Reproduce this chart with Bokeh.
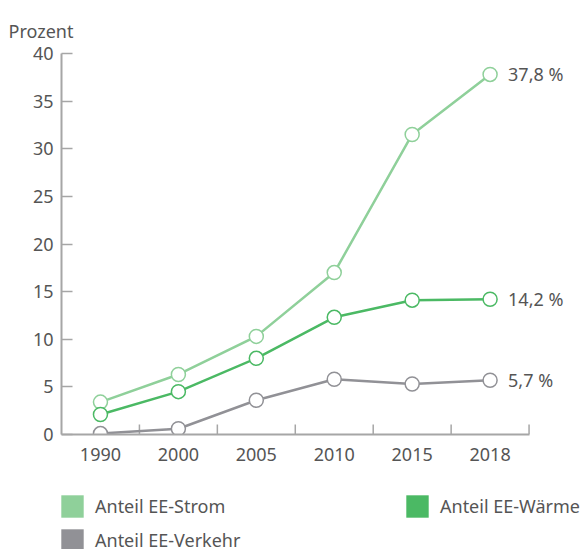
from bokeh.plotting import figure
from bokeh.layouts import column
from bokeh.models import (Range1d, ColumnDataSource, LabelSet, Legend,
                          LegendItem, FixedTicker)
from bokeh.core.properties import value
from bokeh.embed import file_html
from bokeh.resources import INLINE

years = ["1990", "2000", "2005", "2010", "2015", "2018"]
strom = [3.4, 6.3, 10.3, 17.0, 31.5, 37.8]
waerme = [2.1, 4.5, 8.0, 12.3, 14.1, 14.2]
verkehr = [0.1, 0.6, 3.6, 5.8, 5.3, 5.7]
y_ticks = [0, 5, 10, 15, 20, 25, 30, 35, 40]
end_labels = ["37,8 %", "14,2 %", "5,7 %"]
series_names = ["Anteil EE-Strom", "Anteil EE-Wärme", "Anteil EE-Verkehr"]
y_unit = "Prozent"

C_STROM = "#8fd09a"
C_WAERME = "#4bb964"
C_VERKEHR = "#919196"
AXIS = "#a6a6a6"
TXT = "#555555"
FONT = "Noto Sans"

n = len(years)
xc = [i + 0.5 for i in range(n)]          # band centres
bounds = list(range(1, n + 1))            # band boundaries

# main chart
p = figure(width=587, height=485, x_range=Range1d(0, n + 0.75),
           y_range=Range1d(0, 40), output_backend="svg", toolbar_location=None,
           min_border_left=61, min_border_right=0, min_border_top=53, min_border_bottom=51)
p.outline_line_color = None
p.grid.grid_line_color = None
p.background_fill_color = None
p.border_fill_color = None

p.title.text = y_unit
p.title.align = "left"
p.title.vertical_align = "top"
p.title.offset = -53
p.title.text_font = FONT
p.title.text_font_size = "18px"
p.title.text_font_style = "normal"
p.title.text_color = TXT
p.title.standoff = 18

p.yaxis.ticker = FixedTicker(ticks=y_ticks)
p.yaxis.minor_tick_line_color = None
p.yaxis.major_tick_in = 11
p.yaxis.major_tick_out = 0
p.xaxis.ticker = FixedTicker(ticks=xc)
p.xaxis.major_label_overrides = {c: y for c, y in zip(xc, years)}
p.xaxis.bounds = (0, n)
p.xaxis.minor_tick_line_color = None
for ax in (p.xaxis, p.yaxis):
    ax.axis_line_color = AXIS
    ax.axis_line_width = 2
    ax.major_tick_line_color = AXIS
    ax.major_tick_line_width = 1.5
    ax.major_label_text_font = FONT
    ax.major_label_text_font_size = "18px"
    ax.major_label_text_color = TXT
p.yaxis.major_label_standoff = 8
p.xaxis.major_tick_line_color = None
p.xaxis.major_label_standoff = 7

# x ticks at band boundaries
p.ray(x=bounds, y=[0] * n, length=10, length_units="screen",
      angle=90, angle_units="deg", line_color=AXIS, line_width=1.5)

src = ColumnDataSource(dict(x=xc, strom=strom, waerme=waerme, verkehr=verkehr))
for col, c in (("strom", C_STROM), ("verkehr", C_VERKEHR), ("waerme", C_WAERME)):
    p.line("x", col, source=src, line_color=c, line_width=2.5)
    p.scatter("x", col, source=src, size=14, fill_color="white", line_color=c, line_width=1.5)

lab_src = ColumnDataSource(dict(x=[xc[-1]] * 3, y=[strom[-1], waerme[-1], verkehr[-1]],
                                t=end_labels))
p.add_layout(LabelSet(x="x", y="y", text="t", source=lab_src, x_offset=18,
                      text_baseline="middle", text_font=value(FONT),
                      text_font_size=value("18px"), text_color=TXT))

# legend strip (its frame is aligned with the chart's frame by the column layout)
pl = figure(width=587, height=64, x_range=Range1d(0, 1), y_range=Range1d(0, 1),
            output_backend="svg", toolbar_location=None,
            x_axis_location=None, y_axis_location=None,
            min_border_left=0, min_border_right=0, min_border_top=0, min_border_bottom=0)
pl.grid.grid_line_color = None
pl.outline_line_color = None
pl.background_fill_color = None
pl.border_fill_color = None

nan = [float("nan")]
r_s = pl.rect(x=nan, y=nan, width=1, height=1, fill_color=C_STROM, line_color=None)
r_w = pl.rect(x=nan, y=nan, width=1, height=1, fill_color=C_WAERME, line_color=None)
r_v = pl.rect(x=nan, y=nan, width=1, height=1, fill_color=C_VERKEHR, line_color=None)


def mk_legend(items, loc):
    lg = Legend(items=items, location=loc, glyph_width=28, glyph_height=28, spacing=6,
                label_standoff=9, label_text_font=FONT, label_text_font_size="18px",
                label_text_color=TXT, border_line_color=None, background_fill_alpha=0,
                padding=0, margin=0, label_height=28)
    pl.add_layout(lg, "center")


mk_legend([LegendItem(label=series_names[0], renderers=[r_s]),
           LegendItem(label=series_names[2], renderers=[r_v])], (-3, -5))
mk_legend([LegendItem(label=series_names[1], renderers=[r_w])], (342, 29))

open("out.html", "w").write(file_html(column(p, pl, spacing=0), INLINE))
